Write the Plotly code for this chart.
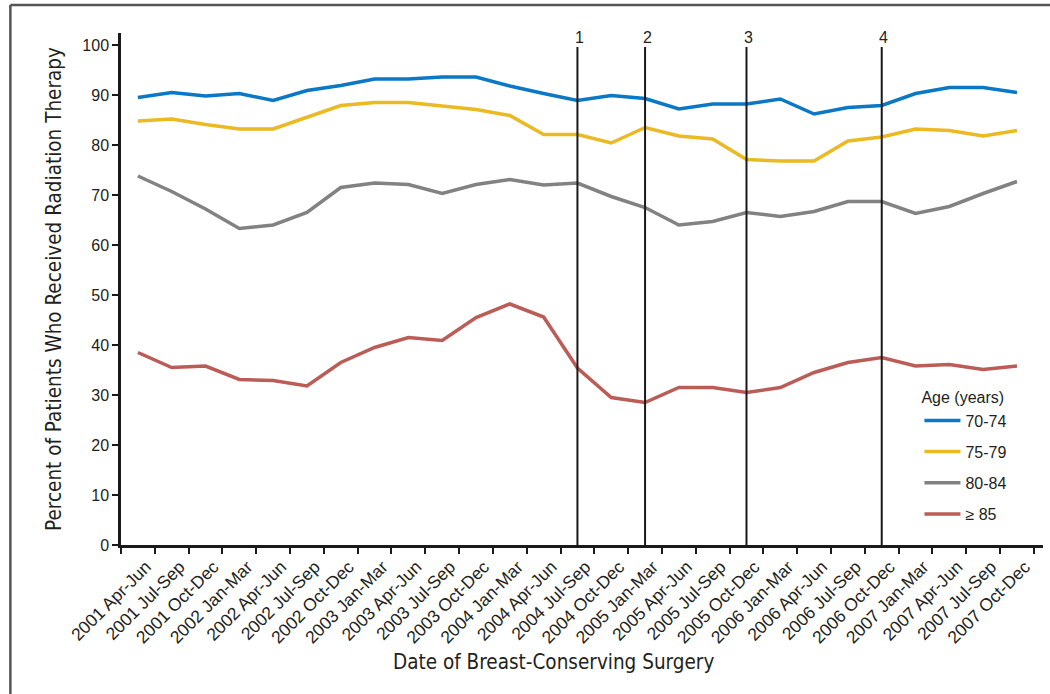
import plotly.graph_objects as go

# Quarters of breast-conserving surgery
quarters = [
    "2001 Apr-Jun", "2001 Jul-Sep", "2001 Oct-Dec",
    "2002 Jan-Mar", "2002 Apr-Jun", "2002 Jul-Sep", "2002 Oct-Dec",
    "2003 Jan-Mar", "2003 Apr-Jun", "2003 Jul-Sep", "2003 Oct-Dec",
    "2004 Jan-Mar", "2004 Apr-Jun", "2004 Jul-Sep", "2004 Oct-Dec",
    "2005 Jan-Mar", "2005 Apr-Jun", "2005 Jul-Sep", "2005 Oct-Dec",
    "2006 Jan-Mar", "2006 Apr-Jun", "2006 Jul-Sep", "2006 Oct-Dec",
    "2007 Jan-Mar", "2007 Apr-Jun", "2007 Jul-Sep", "2007 Oct-Dec",
]

# Percent receiving radiation therapy, by age group
age_70_74 = [89.5, 90.5, 89.8, 90.3, 88.9, 90.9, 91.9, 93.2, 93.2, 93.6, 93.6, 91.8, 90.3, 88.9,
             89.9, 89.3, 87.2, 88.2, 88.2, 89.2, 86.2, 87.5, 87.9, 90.3, 91.5, 91.5, 90.5]
age_75_79 = [84.8, 85.2, 84.1, 83.2, 83.2, 85.5, 87.9, 88.5, 88.5, 87.8, 87.1, 85.9, 82.1, 82.1,
             80.4, 83.5, 81.8, 81.2, 77.1, 76.8, 76.8, 80.8, 81.6, 83.2, 82.9, 81.8, 82.9]
age_80_84 = [73.8, 70.7, 67.2, 63.3, 64.0, 66.5, 71.5, 72.4, 72.1, 70.3, 72.1, 73.1, 72.0, 72.4,
             69.7, 67.5, 64.0, 64.7, 66.5, 65.7, 66.7, 68.7, 68.7, 66.3, 67.7, 70.3, 72.7]
age_85_up = [38.5, 35.5, 35.8, 33.1, 32.9, 31.8, 36.5, 39.5, 41.5, 40.9, 45.5, 48.2, 45.6, 35.4,
             29.5, 28.5, 31.5, 31.5, 30.5, 31.5, 34.5, 36.5, 37.5, 35.8, 36.1, 35.1, 35.8]

series_names = ["70-74", "75-79", "80-84", "\u2265 85"]
series_values = [age_70_74, age_75_79, age_80_84, age_85_up]
series_colors = ["#0a78c4", "#ebb921", "#828282", "#bb5c57"]

# Numbered reference events
event_quarters = ["2004 Jul-Sep", "2005 Jan-Mar", "2005 Oct-Dec", "2006 Oct-Dec"]
event_labels = ["1", "2", "3", "4"]

TEXT = "#231f20"
TICK_FONT = "Liberation Sans, Arial, Helvetica, sans-serif"
TITLE_FONT = "DejaVu Sans Condensed, Liberation Sans, Arial, sans-serif"

fig = go.Figure()

for i, (name, vals, col) in enumerate(zip(series_names, series_values, series_colors)):
    fig.add_trace(go.Scatter(
        x=quarters, y=vals, name=name, mode="lines",
        line=dict(color=col, width=3.5),
        legendgroup=f"g{i}",
    ))

for q, lab in zip(event_quarters, event_labels):
    xi = quarters.index(q)
    fig.add_shape(type="line", xref="x", yref="y", x0=xi, x1=xi, y0=0, y1=99.6,
                  line=dict(color="#1a1a1a", width=2))
    fig.add_annotation(x=xi, y=101.5, xref="x", yref="y", text=lab, showarrow=False,
                       xshift=2, font=dict(family=TICK_FONT, size=16, color=TEXT))

# Outer frame (top and left edges)
L, R, T, B = 120.7, 1043.3, 33.0, 545.0
pw, ph = R - L, B - T
fx = (10 - L) / pw
fy_top = (B - 5) / ph
fy_bot = (B - 700) / ph
fig.add_shape(type="line", xref="paper", yref="paper", x0=fx, x1=(1060 - L) / pw,
              y0=fy_top, y1=fy_top, line=dict(color="#555555", width=2.5))
fig.add_shape(type="line", xref="paper", yref="paper", x0=fx, x1=fx,
              y0=fy_bot, y1=fy_top, line=dict(color="#555555", width=2.5))

# x-axis title, centred under the tick labels
fig.add_annotation(text="Date of Breast-Conserving Surgery", xref="paper", yref="paper",
                   x=(553 - L) / pw, y=(B - 662) / ph, xanchor="center", yanchor="middle",
                   showarrow=False, font=dict(family=TITLE_FONT, size=20.5, color=TEXT))

fig.update_layout(
    width=1050, height=694,
    margin=dict(l=L, r=1050 - R, t=T, b=694 - B, pad=0),
    paper_bgcolor="white", plot_bgcolor="white",
    font=dict(family=TICK_FONT, color=TEXT, size=16),
    showlegend=True,
    legend=dict(
        title=dict(text="Age (years)", font=dict(size=16, color=TEXT)),
        x=0.866, y=0.317, xanchor="left", yanchor="top",
        bgcolor="rgba(0,0,0,0)", tracegroupgap=7.4,
        font=dict(size=16, color=TEXT), itemwidth=36,
    ),
    xaxis=dict(
        type="category", categoryorder="array", categoryarray=quarters,
        range=[-0.5, 26.77], tickson="boundaries",
        showline=True, linecolor="#1a1a1a", linewidth=2.5,
        ticks="outside", ticklen=6, tickwidth=1.5, tickcolor="#1a1a1a",
        tickangle=-45, tickfont=dict(size=17.5, color=TEXT),
        ticklabelshift=8, ticklabelstandoff=2,
        showgrid=False, zeroline=False,
    ),
    yaxis=dict(
        range=[0, 102.4], tickmode="array", tickvals=list(range(0, 101, 10)),
        showline=True, linecolor="#1a1a1a", linewidth=2.5,
        ticks="outside", ticklen=6, tickwidth=1.5, tickcolor="#1a1a1a",
        tickfont=dict(size=16, color=TEXT),
        showgrid=False, zeroline=False,
        title=dict(text="Percent of Patients Who Received Radiation Therapy",
                   font=dict(family=TITLE_FONT, size=20.5, color=TEXT), standoff=16),
    ),
)

fig.write_html("out.html")
